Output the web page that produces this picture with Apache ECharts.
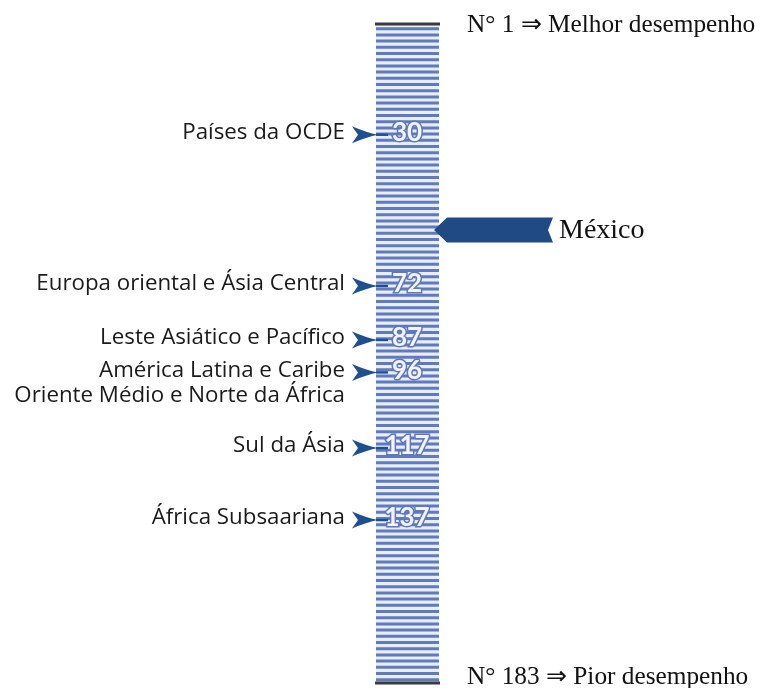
<!DOCTYPE html>
<html>
<head>
<meta charset="utf-8">
<script src="https://cdn.jsdelivr.net/npm/echarts@6/dist/echarts.min.js"></script>
<style>
html,body{margin:0;padding:0;background:#fff;}
#chart{width:763px;height:688px;}
</style>
</head>
<body>
<div id="chart"></div>
<script>
// ---- data ----
const rankMin = 1;
const rankMax = 183;
const regions = [
  'Países da OCDE',
  'Europa oriental e Ásia Central',
  'Leste Asiático e Pacífico',
  'América Latina e Caribe',
  'Oriente Médio e Norte da África',
  'Sul da Ásia',
  'África Subsaariana'
];
const regionRanks = [30, 72, 87, 96, 103, 117, 137];
const regionRankShown = [true, true, true, true, false, true, true];
const countryName = 'México';
const countryRank = 57;
const topLabel = 'N° 1 ⇒ Melhor desempenho';
const bottomLabel = 'N° 183 ⇒ Pior desempenho';

// ---- styles ----
const COL_X = 376, COL_W = 63;
const SHIFT = -2.5;

function renderColumn(params, api) {
  const yTop = api.coord([0, api.value(0) - 0.5])[1] + SHIFT;
  const yBot = api.coord([0, api.value(1) + 0.5])[1] + SHIFT;
  const x = api.coord([COL_X, 0])[0];
  const children = [{
    type: 'rect', shape: {x: x, y: yTop, width: COL_W, height: yBot - yTop},
    style: {fill: '#e8edf6'}
  }];
  for (let y = yTop + 3.2; y < yBot - 3; y += 6.2) {
    children.push({type: 'rect', shape: {x: x, y: y, width: COL_W, height: 3},
      style: {fill: '#5f7bbd'}});
  }
  children.push({type: 'rect', shape: {x: x - 1, y: yTop - 1.5, width: COL_W + 2, height: 3},
    style: {fill: '#3b3b3b'}});
  children.push({type: 'rect', shape: {x: x - 1, y: yBot - 1.5, width: COL_W + 2, height: 3},
    style: {fill: '#3b3b3b'}});
  children.push({type: 'text', style: {text: topLabel, x: 467, y: yTop + 1,
    align: 'left', verticalAlign: 'middle', font: '25.3px "Liberation Serif"', fill: '#111'}});
  children.push({type: 'text', style: {text: bottomLabel, x: 467, y: yBot - 6,
    align: 'left', verticalAlign: 'middle', font: '25.3px "Liberation Serif"', fill: '#111'}});
  return {type: 'group', children: children};
}

function renderRegion(params, api) {
  const rank = api.value(0);
  const idx = api.value(1);
  const y = api.coord([0, rank])[1];
  const children = [];
  children.push({type: 'text', style: {text: regions[idx], x: 345, y: y,
    align: 'right', verticalAlign: 'middle', font: '22.3px "Open Sans"', fill: '#1a1a1a'}});
  if (regionRankShown[idx]) {
    const tx = 378, ty = y + 2;
    children.push({type: 'path', shape: {
      pathData: 'M0 0 Q-11 -2 -26 -8.5 L-20 0 L-26 8.5 Q-11 2 0 0 Z'},
      x: tx, y: ty, style: {fill: '#1f4f8f'}});
    children.push({type: 'rect', shape: {x: tx - 2, y: ty - 1.2, width: 12, height: 2.4},
      style: {fill: '#1f4f8f'}});
    children.push({type: 'text', style: {text: String(rank), x: 407, y: y,
      align: 'center', verticalAlign: 'middle', font: 'bold 26px Lato',
      fill: '#f3f5fb', stroke: '#5d78bc', lineWidth: 3}});
  }
  return {type: 'group', children: children};
}

function renderCountry(params, api) {
  const y = api.coord([0, api.value(0)])[1];
  const tip = 434, x2 = 553, h = 12.5;
  return {type: 'group', children: [
    {type: 'polygon', shape: {points: [
      [tip, y], [tip + 13, y - h], [x2, y - h], [x2 - 5, y], [x2, y + h], [tip + 13, y + h]]},
      style: {fill: '#1f4a84'}},
    {type: 'text', style: {text: countryName, x: 559, y: y + 1, align: 'left',
      verticalAlign: 'middle', font: '28px "Liberation Serif"', fill: '#111'}}
  ]};
}

const chart = echarts.init(document.getElementById('chart'), null, {renderer: 'canvas'});
chart.setOption({
  animation: false,
  backgroundColor: '#ffffff',
  grid: {left: 0, right: 0, top: 26.5, bottom: 2.5},
  xAxis: {type: 'value', min: 0, max: 763, show: false},
  yAxis: {type: 'value', inverse: true, min: rankMin - 0.5, max: rankMax + 0.5, show: false},
  series: [
    {type: 'custom', renderItem: renderColumn, data: [[rankMin, rankMax]], silent: true, clip: false},
    {type: 'custom', renderItem: renderCountry, data: [[countryRank]], silent: true, clip: false},
    {type: 'custom', renderItem: renderRegion,
      data: regionRanks.map((r, i) => [r, i]), silent: true, clip: false}
  ]
});
</script>
</body>
</html>
